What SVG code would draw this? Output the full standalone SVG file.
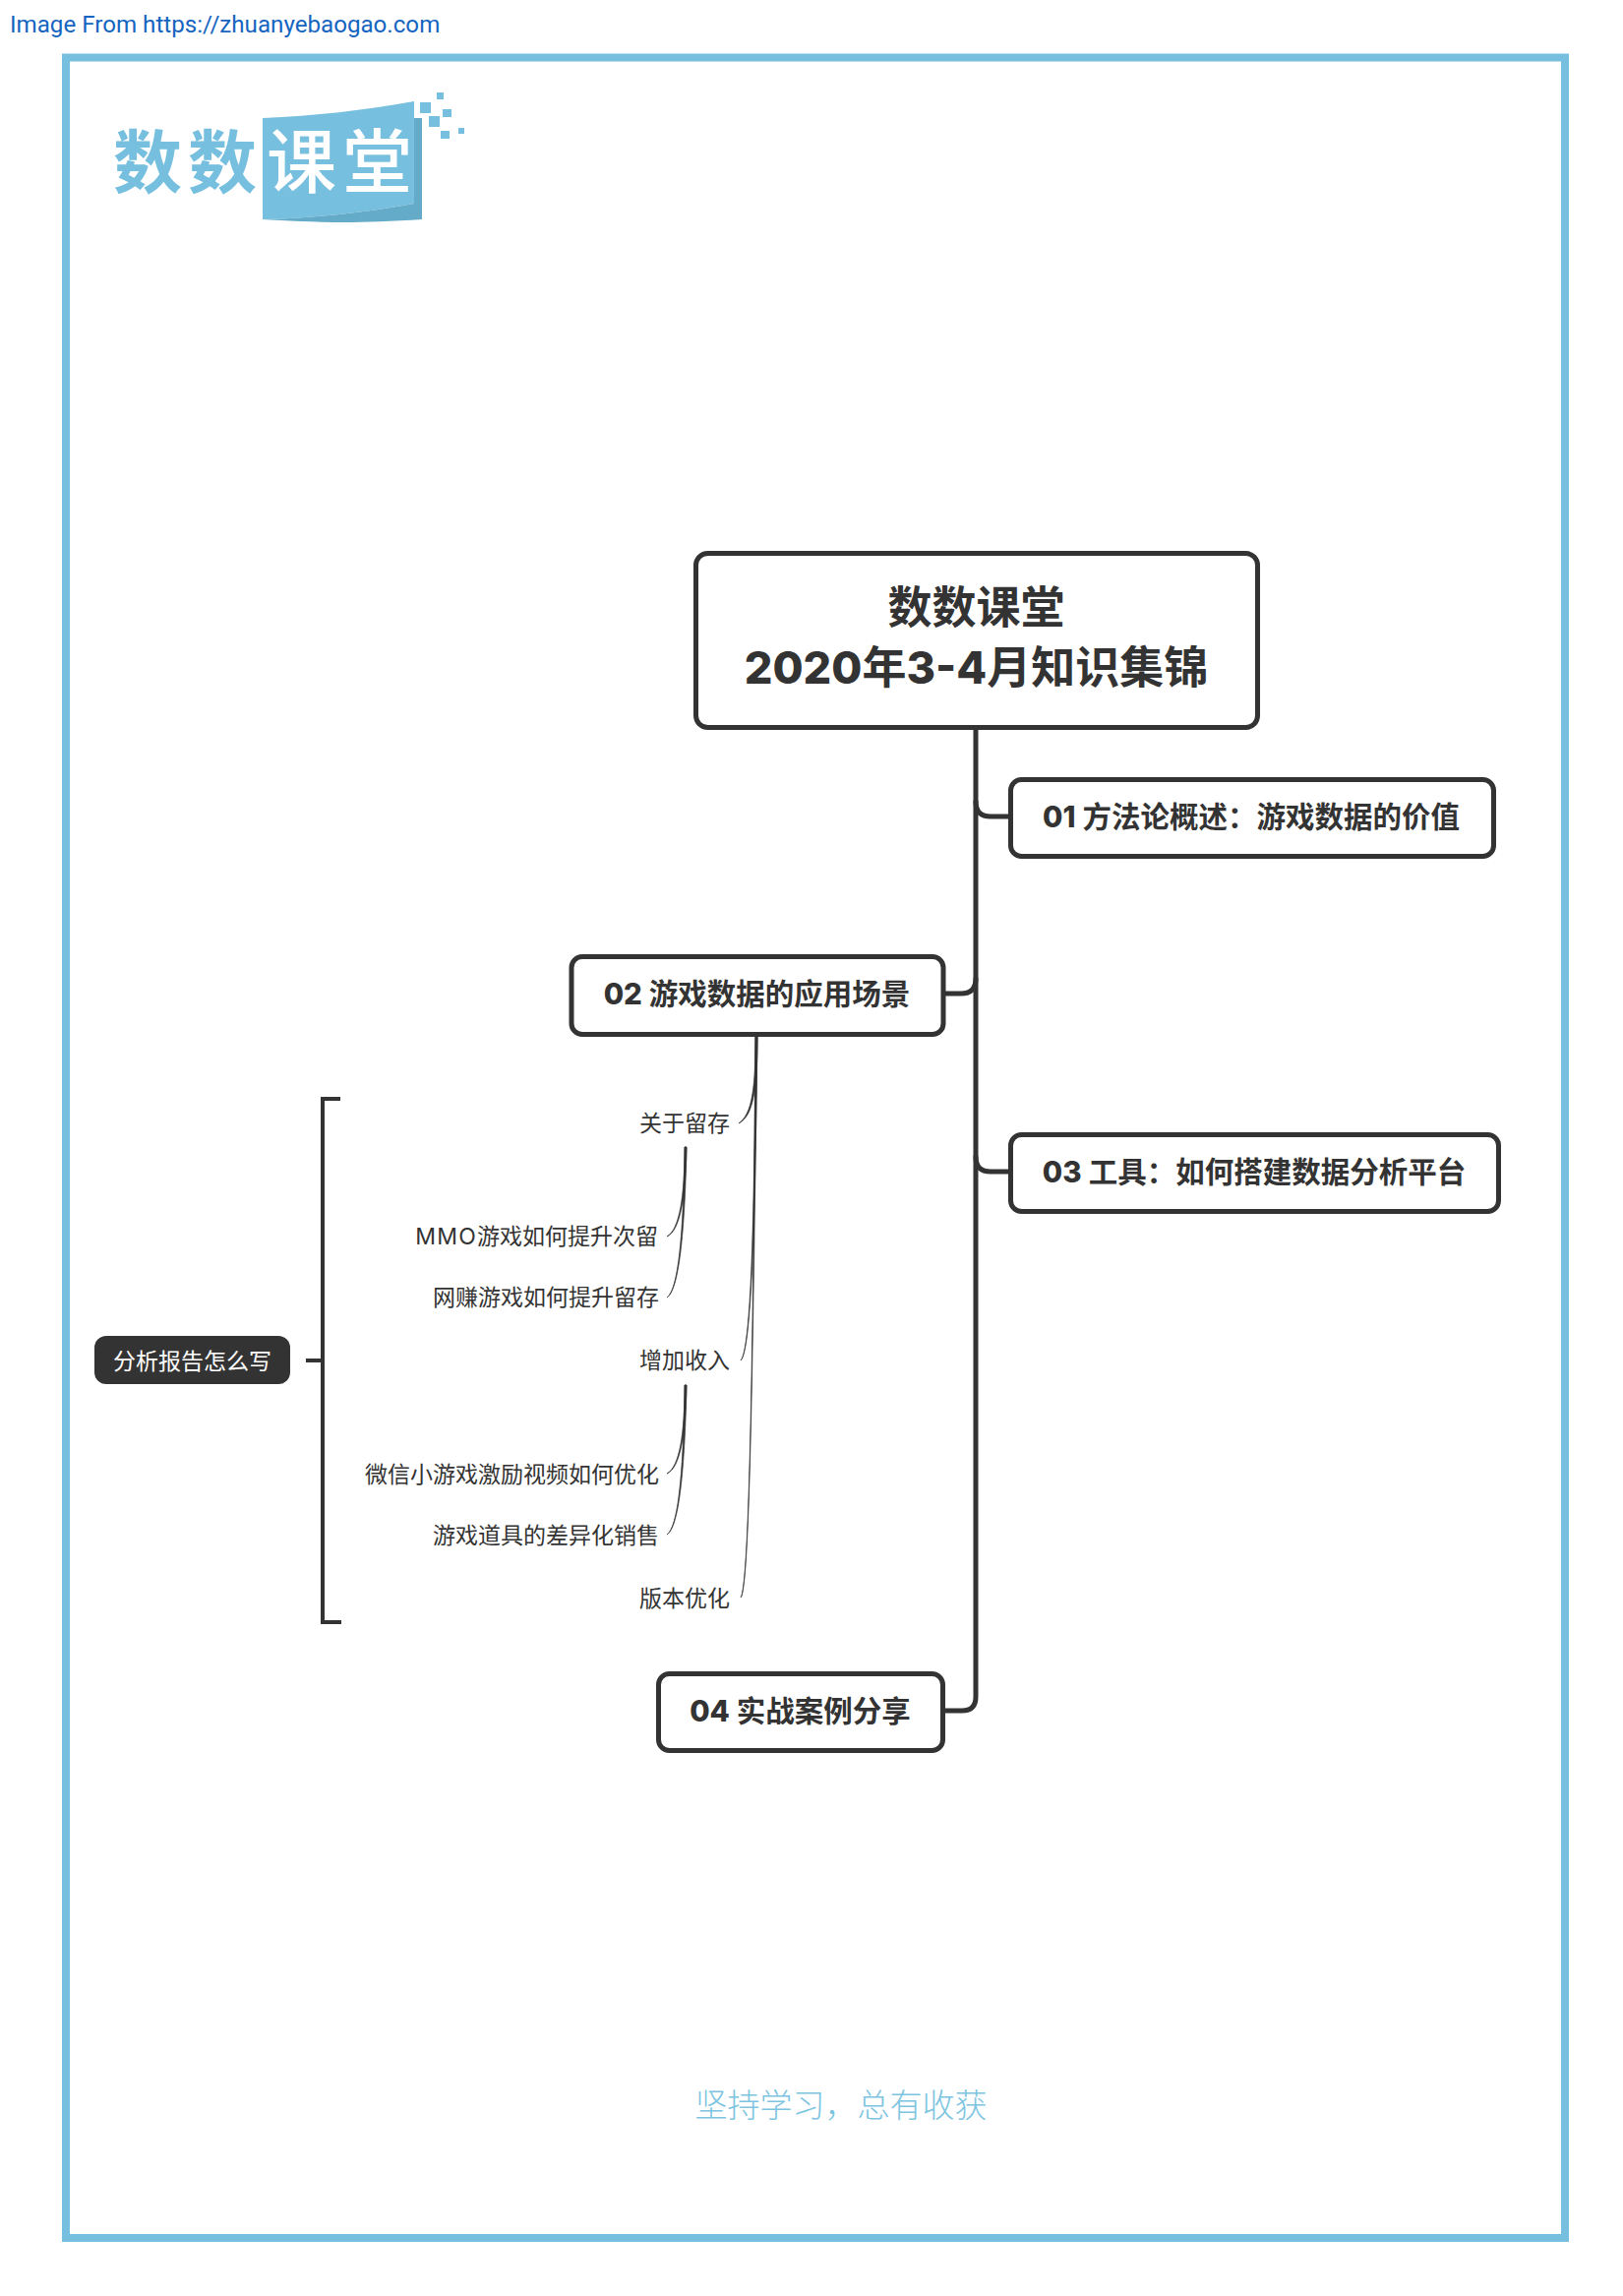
<svg xmlns="http://www.w3.org/2000/svg" width="1650" height="2334" viewBox="0 0 1650 2334">
<style>
text{font-family:"Inter","Noto Sans CJK SC",sans-serif;fill:#333}
.box{fill:#fff;stroke:#333;stroke-width:5}
.t1{font-size:45px;font-weight:700;text-anchor:middle}
.t2{font-size:29.5px;font-weight:700;text-anchor:middle}
.t3{font-size:23px;font-weight:400;text-anchor:end}
.num{font-weight:800}
.main{fill:none;stroke:#333;stroke-width:5;stroke-linecap:round}
.br{fill:none;stroke:#333;stroke-width:4}
.thin{fill:#333;stroke:#333;stroke-width:0.7}
.blue{fill:#76bfdf}
</style>
<rect width="1650" height="2334" fill="#fff"/>
<text x="10" y="33" style="font-family:Roboto,sans-serif;font-size:24.15px;fill:#1565c0">Image From https://zhuanyebaogao.com</text>
<rect x="67" y="58.500" width="1524" height="2216.500" fill="none" stroke="#76bfdf" stroke-width="8"/>
<g id="logo">
<path class="blue" d="M267,120 C320,118 370,112 421,103 L421,207 C370,216 320,222 267,223 Z"/>
<path fill="#63abc8" d="M421,120 L429,120 L429,223 C400,225 370,226 350,226 C320,226 290,224 267,223 C320,222 370,216 421,207 Z"/>
<rect class="blue" x="444" y="94" width="7" height="7"/>
<rect class="blue" x="427" y="104" width="11" height="11"/>
<rect class="blue" x="450" y="111" width="9" height="8"/>
<rect class="blue" x="436" y="118" width="11" height="11"/>
<rect class="blue" x="448" y="133" width="9" height="8"/>
<rect class="blue" x="466" y="130" width="6" height="6"/>
<text x="115" y="191" style="font-size:70px;font-weight:700;letter-spacing:6px;fill:#76bfdf">数数</text>
<text x="271" y="190" style="font-size:71px;font-weight:500;letter-spacing:6px;fill:#fff">课堂</text>
</g>
<g id="connectors">
<path class="main" d="M992,742 V1725 Q992,1739 978,1739 H960"/>
<path class="main" d="M992,815 Q992,830 1007,830 H1027"/>
<path class="main" d="M960,1010 H977 Q992,1010 992,995"/>
<path class="main" d="M992,1176 Q992,1191 1007,1191 H1027"/>
<path class="thin" d="M768,1053 C768,1105 765,1132 751,1142 C766.500,1134 770,1105 770,1053 Z"/>
<path class="thin" d="M768,1053 C767,1200 765,1370 753,1383 C765.500,1372 768,1200 770,1053 Z"/>
<path class="thin" d="M768,1053 C766,1300 763,1612 753,1624 C763.500,1614 766,1300 770,1053 Z"/>
<path class="thin" d="M696,1166 C696,1215 691,1250 678,1257 C692,1251 697,1215 698,1166 Z"/>
<path class="thin" d="M696,1166 C695,1240 691,1310 678,1319 C691.500,1311 696.500,1240 698,1166 Z"/>
<path class="thin" d="M696,1408 C696,1457 691,1491 678,1498 C692,1492 697,1457 698,1408 Z"/>
<path class="thin" d="M696,1408 C695,1482 691,1551 678,1560 C691.500,1552 696.500,1482 698,1408 Z"/>
</g>
<g id="root"><rect class="box" x="707.500" y="562.500" width="571" height="177" rx="12"/>
<text class="t1" x="992.500" y="634">数数课堂</text>
<text class="t1" x="992.500" y="695"><tspan class="num">2020</tspan>年<tspan class="num">3-4</tspan>月知识集锦</text></g>
<g id="n01"><rect class="box" x="1027.500" y="792.500" width="491" height="78" rx="11"/>
<text class="t2" x="1272" y="841"><tspan class="num">01</tspan> 方法论概述：游戏数据的价值</text></g>
<g id="n02"><rect class="box" x="581" y="972.500" width="378" height="79" rx="11"/>
<text class="t2" x="769.500" y="1021"><tspan class="num">02</tspan> 游戏数据的应用场景</text></g>
<g id="n03"><rect class="box" x="1027.500" y="1153.500" width="496" height="78" rx="11"/>
<text class="t2" x="1275" y="1202"><tspan class="num">03</tspan> 工具：如何搭建数据分析平台</text></g>
<g id="n04"><rect class="box" x="669.500" y="1701.500" width="289" height="78" rx="11"/>
<text class="t2" x="813.500" y="1750"><tspan class="num">04</tspan> 实战案例分享</text></g>
<g id="l1"><text class="t3" x="742" y="1150">关于留存</text></g>
<g id="l11"><text class="t3" x="669" y="1265"><tspan letter-spacing="1.2">MMO</tspan>游戏如何提升次留</text></g>
<g id="l12"><text class="t3" x="670" y="1327">网赚游戏如何提升留存</text></g>
<g id="l2"><text class="t3" x="742" y="1391">增加收入</text></g>
<g id="l21"><text class="t3" x="670" y="1507">微信小游戏激励视频如何优化</text></g>
<g id="l22"><text class="t3" x="670" y="1569">游戏道具的差异化销售</text></g>
<g id="l3"><text class="t3" x="742" y="1633">版本优化</text></g>
<g id="summary-bracket"><path class="br" d="M346,1117 H328 V1649 H347 M311,1383 H328"/></g>
<g id="summary"><rect x="96" y="1358" width="199" height="49" rx="12" fill="#333"/>
<text x="195.500" y="1392" style="font-size:23px;text-anchor:middle;fill:#fff">分析报告怎么写</text></g>
<text x="855" y="2152" style="font-size:33px;font-weight:300;text-anchor:middle;fill:#7cc4e0">坚持学习，总有收获</text>
</svg>
